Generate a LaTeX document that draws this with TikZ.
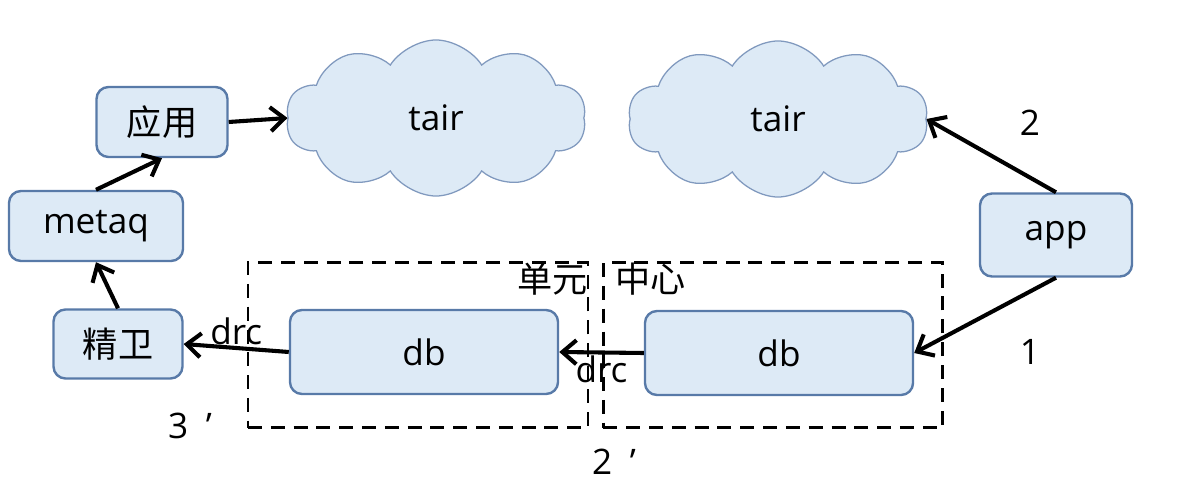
\documentclass[tikz,border=0pt]{standalone}
\usepackage{fontspec}
\setmainfont{Open Sans}
\newfontfamily\cjk{Noto Sans CJK SC}
\usetikzlibrary{shapes.symbols,arrows.meta}
\definecolor{boxfill}{RGB}{221,234,246}
\definecolor{boxline}{RGB}{88,122,168}
\definecolor{cloudline}{RGB}{128,153,190}

\begin{document}
\begin{tikzpicture}[x=0.025cm,y=-0.025cm,
    txt/.style={font=\fontsize{25}{30}\selectfont},
    box/.style={txt,draw=boxline,fill=boxfill,rounded corners=0.3cm,line width=1.7pt},
    tair/.style={txt,cloud,cloud puffs=10,cloud puff arc=115,aspect=2.0,draw=cloudline,
      fill=boxfill,line width=0.9pt,minimum width=7.5cm,minimum height=3.9cm},
    zone/.style={draw,dash pattern=on 0.35cm off 0.22cm,line width=1.9pt,inner sep=0pt},
    arr/.style={-{Straight Barb[length=0.35cm,width=0.6cm]},line width=2.9pt}]
  \useasboundingbox (0,0) rectangle (1184,491);

  % left side
  \node[box,minimum width=3.275cm,minimum height=1.75cm] (yingyong) at (162,122) {\cjk 应用};
  \node[box,minimum width=4.35cm,minimum height=1.75cm] (metaq) at (96,226) {metaq};
  \node[box,minimum width=3.225cm,minimum height=1.725cm] (jingwei) at (118,344) {\cjk 精卫};
  \node[tair] (tairL) at (436,118) {tair};

  % dashed zones
  \node[zone,minimum width=8.5cm,minimum height=4.125cm] (danyuan) at (418,345) {};
  \node[zone,minimum width=8.475cm,minimum height=4.125cm] (zhongxin) at (773,345) {};
  \node[txt,anchor=north east,inner sep=1pt] (lblA) at (danyuan.north east) {\cjk 单元};
  \node[txt,anchor=north west,inner sep=1pt] (lblB) at ([xshift=0.3cm]zhongxin.north west) {\cjk 中心};

  \node[box,minimum width=6.7cm,minimum height=2.1cm] (dbL) at (424,352) {db};
  \node[box,minimum width=6.7cm,minimum height=2.1cm] (dbR) at (779,353) {db};

  % right side
  \node[tair] (tairR) at (778,119) {tair};
  \node[box,minimum width=3.8cm,minimum height=2.075cm] (app) at (1056,235) {app};

  \node[txt] (n1) at (1030,352) {1};
  \node[txt] (n2) at (1030,123) {2};
  \node[txt] (n3) at (190,426) {3\enspace’};
  \node[txt] (n4) at (614,462) {2\enspace’};

  \draw[arr] (yingyong.east) -- (tairL.west);
  \draw[arr] (metaq.north) -- (yingyong.south);
  \draw[arr] (jingwei.north) -- (metaq.south);
  \draw[arr] (dbL.west) -- node[txt,above,inner sep=1pt] {drc} (jingwei.east);
  \draw[arr] (dbR.west) -- node[txt,below,inner sep=1pt] {drc} (dbL.east);
  \draw[arr] (app.south) -- (dbR.east);
  \draw[arr] (app.north) -- (tairR.east);
\end{tikzpicture}
\end{document}
